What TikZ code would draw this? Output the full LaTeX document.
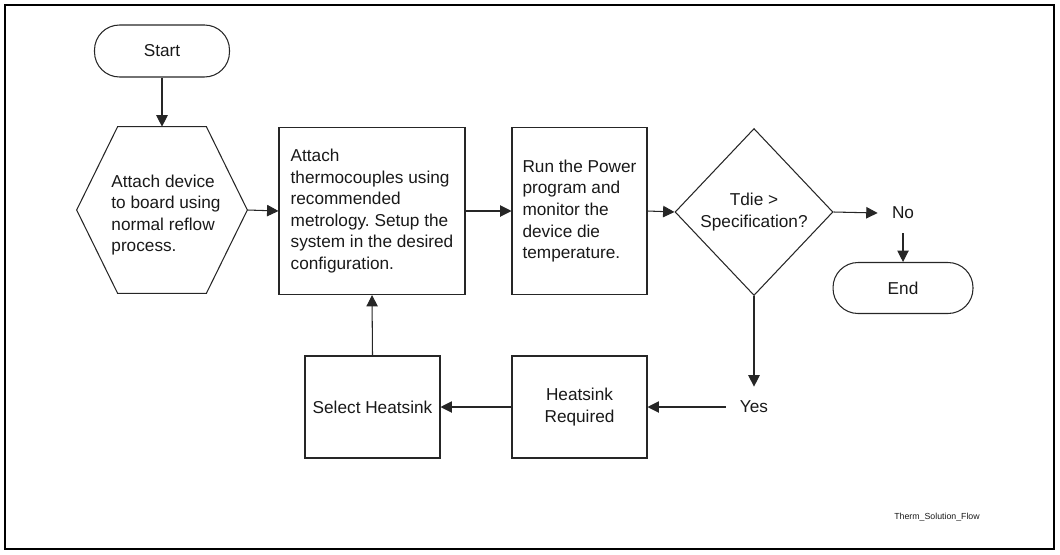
\documentclass[tikz,border=0pt]{standalone}
\usepackage{fontspec}
\setmainfont{Liberation Sans}
\usetikzlibrary{positioning,calc,shapes,arrows.meta}
\frenchspacing

\begin{document}
\begin{tikzpicture}[x=0.02cm, y=-0.02cm,
		every node/.style={font=\fontsize{9.8}{12.3}\selectfont, text=black!90},
		line/.style={draw=black!85, line width=0.6pt},
		flow/.style={line, -{Triangle[length=6.5pt,width=6.5pt]}},
		terminal/.style={line, rectangle, rounded corners=0.5cm, minimum width=2.7cm, minimum height=1.04cm},
		process/.style={line, rectangle, minimum width=2.7cm, minimum height=3.34cm, inner sep=0pt},
		answer/.style={inner sep=0.28cm}]
			\useasboundingbox (0,0) rectangle (1060,554);
			\draw [line width=1.2pt] (5,5) rectangle (1054,549);
			% first column
			\node [terminal] (start) at (162,51) {Start};
			\node [minimum width=3.4cm, minimum height=3.32cm, inner sep=0pt] (hex) at (162,210) {};
			\draw [line] (hex.west) -- ($(hex.north west)!0.24!(hex.north east)$)
				-- ($(hex.north west)!0.76!(hex.north east)$) -- (hex.east)
				-- ($(hex.south west)!0.76!(hex.south east)$)
				-- ($(hex.south west)!0.24!(hex.south east)$) -- cycle;
			\node [align=left] (hextext) at ([shift={(4,5)}]hex.center) {Attach device\\to board using\\normal reflow\\process.};
			% top row
			\node [process, minimum width=3.72cm, align=left] (setup) at (372,211)
				{Attach\\thermocouples using\\recommended\\metrology. Setup the\\system in the desired\\configuration.};
			\node [process, align=left] (power) at (579.5,211)
				{Run the Power\\program and\\monitor the\\device die\\temperature.};
			\node [line, diamond, minimum width=3.16cm, minimum height=3.34cm, inner sep=0pt, align=center] (check) at (754,212) {Tdie >\\Specification?};
			\node [answer] (no) at (903,213) {No};
			\node [terminal, minimum width=2.8cm, minimum height=1.02cm] (end) at (903,288) {End};
			% bottom row
			\node [answer] (yes) at (754,407) {Yes};
			\node [process, minimum height=2.04cm, align=center] (needsink) at (579.5,407) {Heatsink\\Required};
			\node [process, minimum height=2.04cm] (pick) at (372.5,407) {Select Heatsink};
			\node [font=\fontsize{5}{6}\selectfont] (tag) at (937,517) {Therm\_Solution\_Flow};
			% connectors
			\draw [flow] (start.south) -- (hex.north);
			\draw [flow] (hex.east) -- (setup.west);
			\draw [flow] (setup.east) -- (power.west);
			\draw [flow] (power.east) -- (check.west);
			\draw [flow] (check.east) -- (no.west);
			\draw [flow] (no.south) -- (end.north);
			\draw [flow] (check.south) -- (yes.north);
			\draw [flow] (yes.west) -- (needsink.east);
			\draw [flow] (needsink.west) -- (pick.east);
			\draw [flow] (pick.north) -- (setup.south);
		\end{tikzpicture}
\end{document}
